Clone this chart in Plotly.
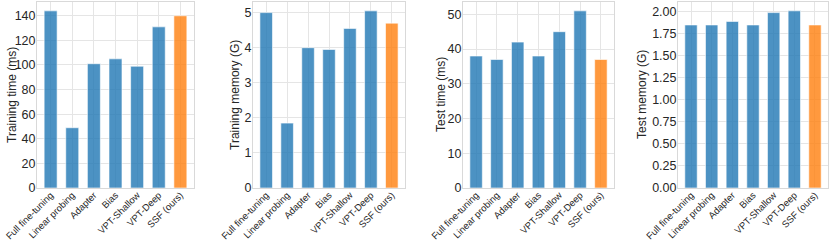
import plotly.graph_objects as go

methods = ["Full fine-tuning", "Linear probing", "Adapter", "Bias", "VPT-Shallow", "VPT-Deep", "SSF (ours)"]
train_time = [144, 49, 101, 105, 99, 131, 140]
train_mem = [5.0, 1.85, 4.0, 3.95, 4.55, 5.05, 4.7]
test_time = [38, 37, 42, 38, 45, 51, 37]
test_mem = [1.85, 1.85, 1.89, 1.85, 1.99, 2.01, 1.85]

titles = ["Training time (ms)", "Training memory (G)", "Test time (ms)", "Test memory (G)"]
series = [train_time, train_mem, test_time, test_mem]
dticks = [20, 1, 10, 0.25]
tickfmts = ["d", "d", "d", ".2f"]

W, H = 831, 240
xdoms = [(37, 194), (253, 405), (463, 614), (678, 828)]
title_x = [12, 235, 441, 642]
ydom = [1 - 188 / H, 1 - 2 / H]

blue = "rgba(31,119,180,0.8)"
orange = "rgba(255,127,14,0.8)"
colors = [blue] * 6 + [orange]

fig = go.Figure()
layout = dict(width=W, height=H, margin=dict(l=0, r=0, t=0, b=0, autoexpand=False),
              paper_bgcolor="white", plot_bgcolor="white", showlegend=False,
              font=dict(family="Liberation Sans, Arial, sans-serif", color="#262626"),
              bargap=0.4)
annotations = []
for i, (vals, title) in enumerate(zip(series, titles)):
    n = "" if i == 0 else str(i + 1)
    fig.add_trace(go.Bar(x=methods, y=vals, marker=dict(color=colors,
                         line=dict(color="rgba(255,255,255,0.6)", width=1)),
                         width=0.6, xaxis="x" + n, yaxis="y" + n, hoverinfo="skip"))
    ymax = max(vals) * 1.05
    layout["xaxis" + n] = dict(domain=[xdoms[i][0] / W, xdoms[i][1] / W], anchor="y" + n,
                               range=[-0.63, 6.63], tickangle=-45, tickfont=dict(size=9.5),
                               automargin=False, ticklabelstandoff=-3,
                               showgrid=True, gridcolor="#e5e5e5", gridwidth=1,
                               showline=True, linecolor="#d9d9d9", mirror=True,
                               ticks="", ticklen=0)
    layout["yaxis" + n] = dict(domain=ydom, anchor="x" + n, range=[0, ymax],
                               dtick=dticks[i], tickformat=tickfmts[i],
                               tickfont=dict(size=12.5), automargin=False,
                               ticklabelstandoff=-2,
                               showgrid=True, gridcolor="#e5e5e5", gridwidth=1,
                               showline=True, linecolor="#d9d9d9", mirror=True,
                               zeroline=False, ticks="", ticklen=0)
    annotations.append(dict(text=title, textangle=-90, xref="paper", yref="paper",
                            x=title_x[i] / W, y=1 - 95 / H, showarrow=False,
                            xanchor="center", yanchor="middle",
                            font=dict(size=12, color="#262626")))
layout["annotations"] = annotations
fig.update_layout(**layout)
fig.write_html("out.html", config={"displayModeBar": False},
               post_script="document.body.style.margin='0';document.body.style.padding='0';")
